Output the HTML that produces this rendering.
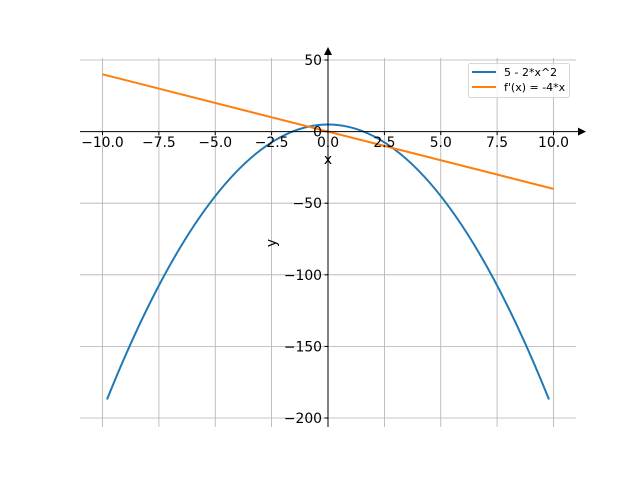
<!DOCTYPE html>
<html><head><meta charset="utf-8"><style>body{margin:0;background:#fff}svg{display:block}text{font-family:"DejaVu Sans","Liberation Sans",sans-serif;font-size:13.9px;fill:#000}</style></head>
<body>
<svg width="640" height="480" viewBox="0 0 640 480">
<g stroke="#b0b0b0" stroke-width="0.8">
<line x1="102.5" y1="58" x2="102.5" y2="427"/><line x1="158.9" y1="58" x2="158.9" y2="427"/><line x1="215.25" y1="58" x2="215.25" y2="427"/><line x1="271.6" y1="58" x2="271.6" y2="427"/><line x1="328" y1="58" x2="328" y2="427"/><line x1="384.4" y1="58" x2="384.4" y2="427"/><line x1="440.75" y1="58" x2="440.75" y2="427"/><line x1="497.1" y1="58" x2="497.1" y2="427"/><line x1="553.5" y1="58" x2="553.5" y2="427"/>
<line x1="80" y1="60" x2="576" y2="60"/><line x1="80" y1="203.2" x2="576" y2="203.2"/><line x1="80" y1="274.8" x2="576" y2="274.8"/><line x1="80" y1="346.4" x2="576" y2="346.4"/><line x1="80" y1="418" x2="576" y2="418"/>
</g>
<path d="M107 399.5 Q328 -150.6 549 399.5" fill="none" stroke="#1f77b4" stroke-width="2"/>
<line x1="102.5" y1="74.3" x2="553.5" y2="188.9" stroke="#ff7f0e" stroke-width="2"/>
<g stroke="#000" stroke-width="1">
<line x1="80" y1="131.6" x2="580" y2="131.6"/><line x1="328" y1="427" x2="328" y2="52"/>
<line x1="102.5" y1="131.6" x2="102.5" y2="135.1"/><line x1="158.9" y1="131.6" x2="158.9" y2="135.1"/><line x1="215.25" y1="131.6" x2="215.25" y2="135.1"/><line x1="271.6" y1="131.6" x2="271.6" y2="135.1"/><line x1="328" y1="131.6" x2="328" y2="135.1"/><line x1="384.4" y1="131.6" x2="384.4" y2="135.1"/><line x1="440.75" y1="131.6" x2="440.75" y2="135.1"/><line x1="497.1" y1="131.6" x2="497.1" y2="135.1"/><line x1="553.5" y1="131.6" x2="553.5" y2="135.1"/>
<line x1="324.5" y1="60" x2="328" y2="60"/><line x1="324.5" y1="131.6" x2="328" y2="131.6"/><line x1="324.5" y1="203.2" x2="328" y2="203.2"/><line x1="324.5" y1="274.8" x2="328" y2="274.8"/><line x1="324.5" y1="346.4" x2="328" y2="346.4"/><line x1="324.5" y1="418" x2="328" y2="418"/>
</g>
<polygon points="586,131.6 578,127.6 578,135.6" fill="#000"/>
<polygon points="328,47 324,55 332,55" fill="#000"/>
<g text-anchor="middle">
<text x="102.5" y="147">−10.0</text><text x="158.9" y="147">−7.5</text><text x="215.25" y="147">−5.0</text><text x="271.6" y="147">−2.5</text><text x="328" y="147">0.0</text><text x="384.4" y="147">2.5</text><text x="440.75" y="147">5.0</text><text x="497.1" y="147">7.5</text><text x="553.5" y="147">10.0</text>
<text x="328" y="164">x</text>
</g>
<g text-anchor="end">
<text x="322" y="65">50</text><text x="322" y="136.6">0</text><text x="322" y="208.2">−50</text><text x="322" y="279.8">−100</text><text x="322" y="351.4">−150</text><text x="322" y="423">−200</text>
</g>
<text x="276" y="243" text-anchor="middle" transform="rotate(-90 276 243)">y</text>
<rect x="468.5" y="63.5" width="101" height="34" rx="2" fill="#fff" fill-opacity="0.8" stroke="#ccc" stroke-width="0.8"/>
<line x1="472" y1="72" x2="496" y2="72" stroke="#1f77b4" stroke-width="2"/>
<line x1="472" y1="87" x2="496" y2="87" stroke="#ff7f0e" stroke-width="2"/>
<text x="504" y="76" style="font-size:11px">5 - 2*x^2</text>
<text x="504" y="91" style="font-size:11px">f'(x) = -4*x</text>
</svg>
</body></html>
